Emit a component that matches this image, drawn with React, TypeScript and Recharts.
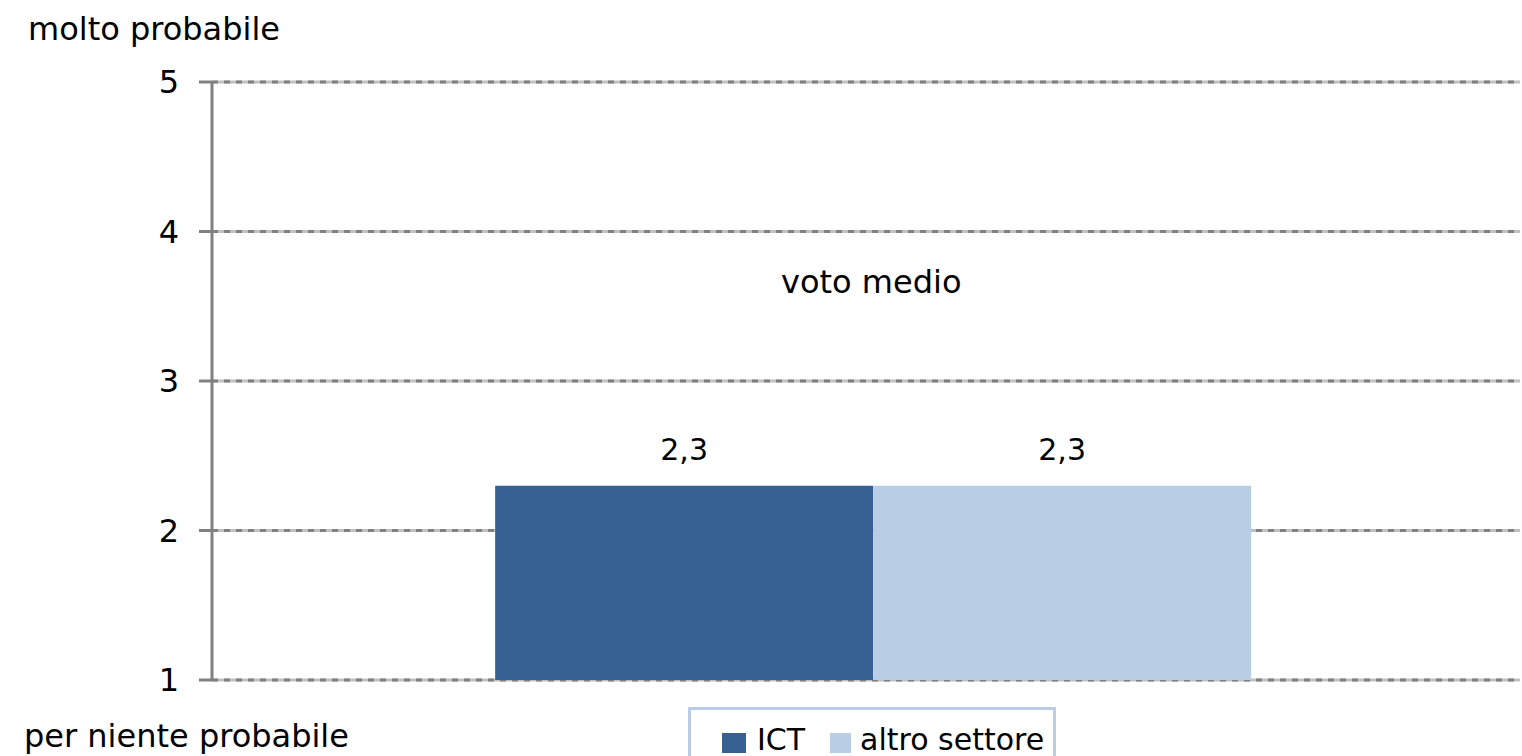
import React from "react";
import { BarChart, Bar, XAxis, YAxis, CartesianGrid, LabelList, Legend } from "recharts";

const categories = ["voto medio"];
const ictValues = [2.3];
const altroValues = [2.3];
const yTicks = [1, 2, 3, 4, 5];
const seriesNames = ["ICT", "altro settore"];
const COLORS = ["#366092", "#b9cde5"];

const data = categories.map((name, i) => ({ name, ict: ictValues[i], altro: altroValues[i] }));

const FONT = "'DejaVu Sans', Verdana, sans-serif";

const fmt = (v: any) => String(v).replace(".", ",");

// legend item offsets inside the box (square left, square width, text left)
const legendPos = [
  [31, 24, 66],
  [139, 21, 169],
];

function LegendBox() {
  return (
    <div
      style={{
        position: "absolute",
        left: 688,
        top: 707,
        width: 368,
        height: 60,
        border: "3px solid #b9cde5",
        boxSizing: "border-box",
        fontFamily: FONT,
        fontSize: 30,
        color: "#000",
      }}
    >
      {seriesNames.map((s, i) => (
        <React.Fragment key={s}>
          <span style={{ position: "absolute", left: legendPos[i][0], top: 23, width: legendPos[i][1], height: 20, background: COLORS[i] }} />
          <span style={{ position: "absolute", left: legendPos[i][2], top: 15, lineHeight: "30px", whiteSpace: "nowrap" }}>{s}</span>
        </React.Fragment>
      ))}
    </div>
  );
}

export default function App() {
  return (
    <div style={{ position: "absolute", left: 0, top: 0, width: 1522, height: 756, overflow: "hidden", background: "#fff", fontFamily: FONT }}>
      <BarChart
        width={1522}
        height={756}
        data={data}
        margin={{ top: 82, right: 2, bottom: 76, left: 0 }}
        barCategoryGap="20.8%"
        barGap={0}
      >
        <CartesianGrid vertical={false} stroke="#c0c0c0" strokeWidth={3} />
        <CartesianGrid vertical={false} stroke="#808080" strokeWidth={3} strokeDasharray="6 6" />
        <XAxis dataKey="name" hide padding={{ left: 14, right: 0 }} />
        <YAxis
          width={212}
          domain={[1, 5]}
          ticks={yTicks}
          interval={0}
          axisLine={{ stroke: "#808080", strokeWidth: 3 }}
          tickLine={{ stroke: "#808080", strokeWidth: 3 }}
          tickSize={13}
          tickMargin={20}
          tick={{ fill: "#000", fontSize: 32, fontFamily: FONT }}
        />
        <Legend content={() => null} />
        <Bar dataKey="ict" name={seriesNames[0]} fill={COLORS[0]} isAnimationActive={false}>
          <LabelList dataKey="ict" position="top" offset={26} formatter={fmt} fill="#000" fontSize={30} fontFamily={FONT} />
        </Bar>
        <Bar dataKey="altro" name={seriesNames[1]} fill={COLORS[1]} isAnimationActive={false}>
          <LabelList dataKey="altro" position="top" offset={26} formatter={fmt} fill="#000" fontSize={30} fontFamily={FONT} />
        </Bar>
      </BarChart>
      <div style={{ position: "absolute", left: 28, top: 10, fontSize: 32, whiteSpace: "nowrap", color: "#000" }}>molto probabile</div>
      <div style={{ position: "absolute", left: 24, top: 720, fontSize: 32, lineHeight: "32px", whiteSpace: "nowrap", color: "#000" }}>per niente probabile</div>
      <div style={{ position: "absolute", left: 781, top: 263, fontSize: 32, whiteSpace: "nowrap", color: "#000" }}>{categories[0]}</div>
      <LegendBox />
    </div>
  );
}
